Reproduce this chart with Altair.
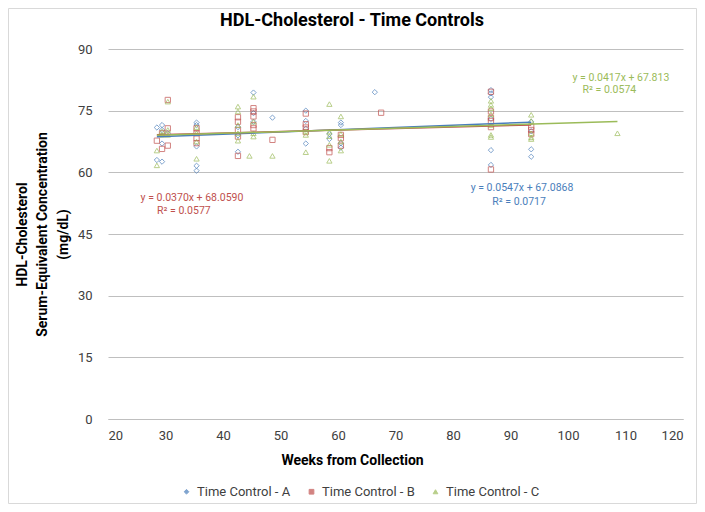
import altair as alt
import pandas as pd

series_names = ["Time Control - A", "Time Control - B", "Time Control - C"]
series_colors = ["#4a7ebb", "#c0504d", "#9bbb59"]
series_shapes = ["diamond", "square", "triangle-up"]

chart_title = "HDL-Cholesterol - Time Controls"

# Time Control - A
a_weeks = [28.5, 28.5,
           29.4, 29.4, 29.4, 29.4,
           30.4,
           35.4, 35.4, 35.4, 35.4, 35.4,
           42.6, 42.6, 42.6,
           45.3, 45.3, 45.3,
           48.6,
           54.4, 54.4, 54.4, 54.4,
           58.5, 58.5,
           60.5, 60.5, 60.5, 60.5,
           66.4,
           86.6, 86.6, 86.6, 86.6, 86.6, 86.6,
           93.6, 93.6, 93.6, 93.6]
a_hdl = [70.9, 63.0,
         71.5, 70.3, 67.0, 62.6,
         69.5,
         72.1, 71.5, 66.3, 61.6, 60.4,
         71.0, 69.0, 65.0,
         79.4, 74.4, 72.3,
         73.3,
         75.0, 72.5, 70.6, 67.0,
         69.3, 68.1,
         72.1, 71.5, 67.1, 66.0,
         79.5,
         80.0, 79.2, 78.3, 73.0, 65.4, 61.8,
         72.3, 70.0, 65.6, 63.8]

# Time Control - B
b_weeks = [28.5,
           29.4, 29.4,
           30.4, 30.4, 30.4,
           35.4, 35.4, 35.4, 35.4,
           42.6, 42.6, 42.6, 42.6, 42.6,
           45.3, 45.3, 45.3, 45.3, 45.3,
           48.6,
           54.4, 54.4, 54.4, 54.4,
           58.5, 58.5,
           60.5, 60.5, 60.5,
           67.5,
           86.6, 86.6, 86.6, 86.6, 86.6, 86.6,
           93.6, 93.6, 93.6]
b_hdl = [67.7,
         69.5, 65.7,
         77.6, 70.7, 66.5,
         70.7, 69.5, 68.3, 67.1,
         73.4, 72.3, 70.3, 68.7, 64.0,
         75.6, 74.8, 73.6, 71.5, 70.7,
         67.9,
         74.3, 71.7, 70.9, 69.8,
         65.9, 64.9,
         69.1, 68.3, 66.5,
         74.5,
         79.6, 74.8, 73.2, 72.5, 71.0, 60.7,
         71.1, 70.3, 69.3]

# Time Control - C
c_weeks = [28.5, 28.5,
           29.4, 29.4,
           30.4, 30.4, 30.4,
           35.4, 35.4, 35.4, 35.4,
           42.6, 42.6, 42.6, 42.6, 42.6,
           44.6,
           45.3, 45.3, 45.3, 45.3,
           48.6,
           54.4, 54.4, 54.4,
           58.5, 58.5, 58.5, 58.5, 58.5,
           60.5, 60.5, 60.5, 60.5,
           86.6, 86.6, 86.6, 86.6, 86.6, 86.6, 86.6,
           93.6, 93.6, 93.6, 93.6, 93.6,
           108.6]
c_hdl = [65.3, 61.7,
         70.0, 69.1,
         77.2, 70.3, 69.1,
         71.0, 69.5, 67.5, 63.3,
         76.0, 74.8, 71.5, 69.5, 67.7,
         64.0,
         78.4, 72.3, 69.5, 68.7,
         64.0,
         69.9, 69.1, 64.9,
         76.6, 69.9, 68.8, 66.7, 62.8,
         73.6, 69.3, 67.5, 65.3,
         77.4, 76.4, 75.6, 74.1, 71.5, 69.1, 68.6,
         74.0, 72.5, 69.5, 68.5, 68.1,
         69.5]

# Linear trendline coefficients (as printed on the chart)
trend_slopes = [0.0547, 0.0370, 0.0417]
trend_intercepts = [67.0868, 68.0590, 67.813]

# Trendline equation labels
label_series = ["Time Control - B", "Time Control - B",
                "Time Control - A", "Time Control - A",
                "Time Control - C", "Time Control - C"]
label_text = ["y = 0.0370x + 68.0590", "R² = 0.0577",
              "y = 0.0547x + 67.0868", "R² = 0.0717",
              "y = 0.0417x + 67.813", "R² = 0.0574"]
label_x = [34.6, 33.2, 92.0, 91.5, 109.2, 107.2]
label_y = [53.8, 50.6, 56.2, 52.8, 83.0, 80.0]

x_ticks = [20, 30, 40, 50, 60, 70, 80, 90, 100, 110, 120]
y_ticks = [0, 15, 30, 45, 60, 75, 90]

FONT = "Roboto"

all_weeks = [a_weeks, b_weeks, c_weeks]
all_hdl = [a_hdl, b_hdl, c_hdl]

points = pd.concat([
    pd.DataFrame({"week": w, "hdl": h, "series": n})
    for w, h, n in zip(all_weeks, all_hdl, series_names)
], ignore_index=True)

trend_rows = []
for n, w, m, b in zip(series_names, all_weeks, trend_slopes, trend_intercepts):
    for xv in (min(w), max(w)):
        trend_rows.append({"series": n, "week": xv, "hdl": m * xv + b})
trend = pd.DataFrame(trend_rows)

labels = pd.DataFrame({"series": label_series, "text": label_text,
                       "week": label_x, "hdl": label_y})

color_scale = alt.Scale(domain=series_names, range=series_colors)
shape_scale = alt.Scale(domain=series_names, range=series_shapes)

x_enc = alt.X("week:Q",
              scale=alt.Scale(domain=[20, 120], nice=False, zero=False),
              axis=alt.Axis(values=x_ticks, grid=False, domainColor="#bfbfbf",
                            ticks=False, labelPadding=10, labelFontSize=13,
                            labelColor="#404040", labelFont=FONT,
                            title="Weeks from Collection", titleFont=FONT,
                            titleFontSize=14, titleFontWeight="bold",
                            titleColor="#000000", titleX=244, titleY=41,
                            titleBaseline="middle"))
y_enc = alt.Y("hdl:Q",
              scale=alt.Scale(domain=[0, 90], nice=False),
              axis=alt.Axis(values=y_ticks, grid=True, gridColor="#bfbfbf",
                            domain=False, ticks=False, labelPadding=16,
                            labelFontSize=13, labelColor="#404040",
                            labelFont=FONT,
                            title=["HDL-Cholesterol",
                                   "Serum-Equivalent Concentration",
                                   "(mg/dL)"],
                            titleFont=FONT, titleFontSize=14,
                            titleFontWeight="bold", titleColor="#000000",
                            titleX=-93, titleY=185, titleBaseline="top",
                            titleAlign="center", titleLineHeight=20.5))

border = alt.Chart(pd.DataFrame({"k": [0]})).mark_rect(
    fill=None, stroke="#d9d9d9", strokeWidth=1
).encode(x=alt.value(-99.5), x2=alt.value(588.5),
         y=alt.value(-40.5), y2=alt.value(454.5))

title_mark = alt.Chart(pd.DataFrame({"t": [chart_title]})).mark_text(
    font=FONT, fontSize=18, fontWeight="bold", color="#000000",
    align="center", baseline="middle"
).encode(x=alt.value(244), y=alt.value(-28), text="t:N")

lines = alt.Chart(trend).mark_line(strokeWidth=1.5).encode(
    x=x_enc, y=y_enc,
    color=alt.Color("series:N", scale=color_scale, legend=None),
    detail="series:N",
)

pts = alt.Chart(points).mark_point(filled=False, size=28, strokeWidth=1).encode(
    x=x_enc, y=y_enc,
    color=alt.Color("series:N", scale=color_scale,
                    legend=alt.Legend(title=None, orient="none",
                                      direction="horizontal",
                                      legendX=72, legendY=436,
                                      labelFont=FONT, labelFontSize=13,
                                      labelColor="#404040",
                                      symbolSize=22, symbolStrokeWidth=1,
                                      columnPadding=14)),
    shape=alt.Shape("series:N", scale=shape_scale),
)

txt = alt.Chart(labels).mark_text(font=FONT, fontSize=10.5, align="center",
                                  baseline="middle").encode(
    x=x_enc, y=y_enc,
    color=alt.Color("series:N", scale=color_scale, legend=None),
    text="text:N",
)

chart = alt.layer(border, title_mark, pts, lines, txt).properties(
    width=575, height=370,
    autosize=alt.AutoSizeParams(type="none"),
    padding={"left": 100, "top": 41, "right": 14, "bottom": 85},
).configure_view(stroke=None)

chart.save("out.html", embed_options={"renderer": "svg", "actions": False})
